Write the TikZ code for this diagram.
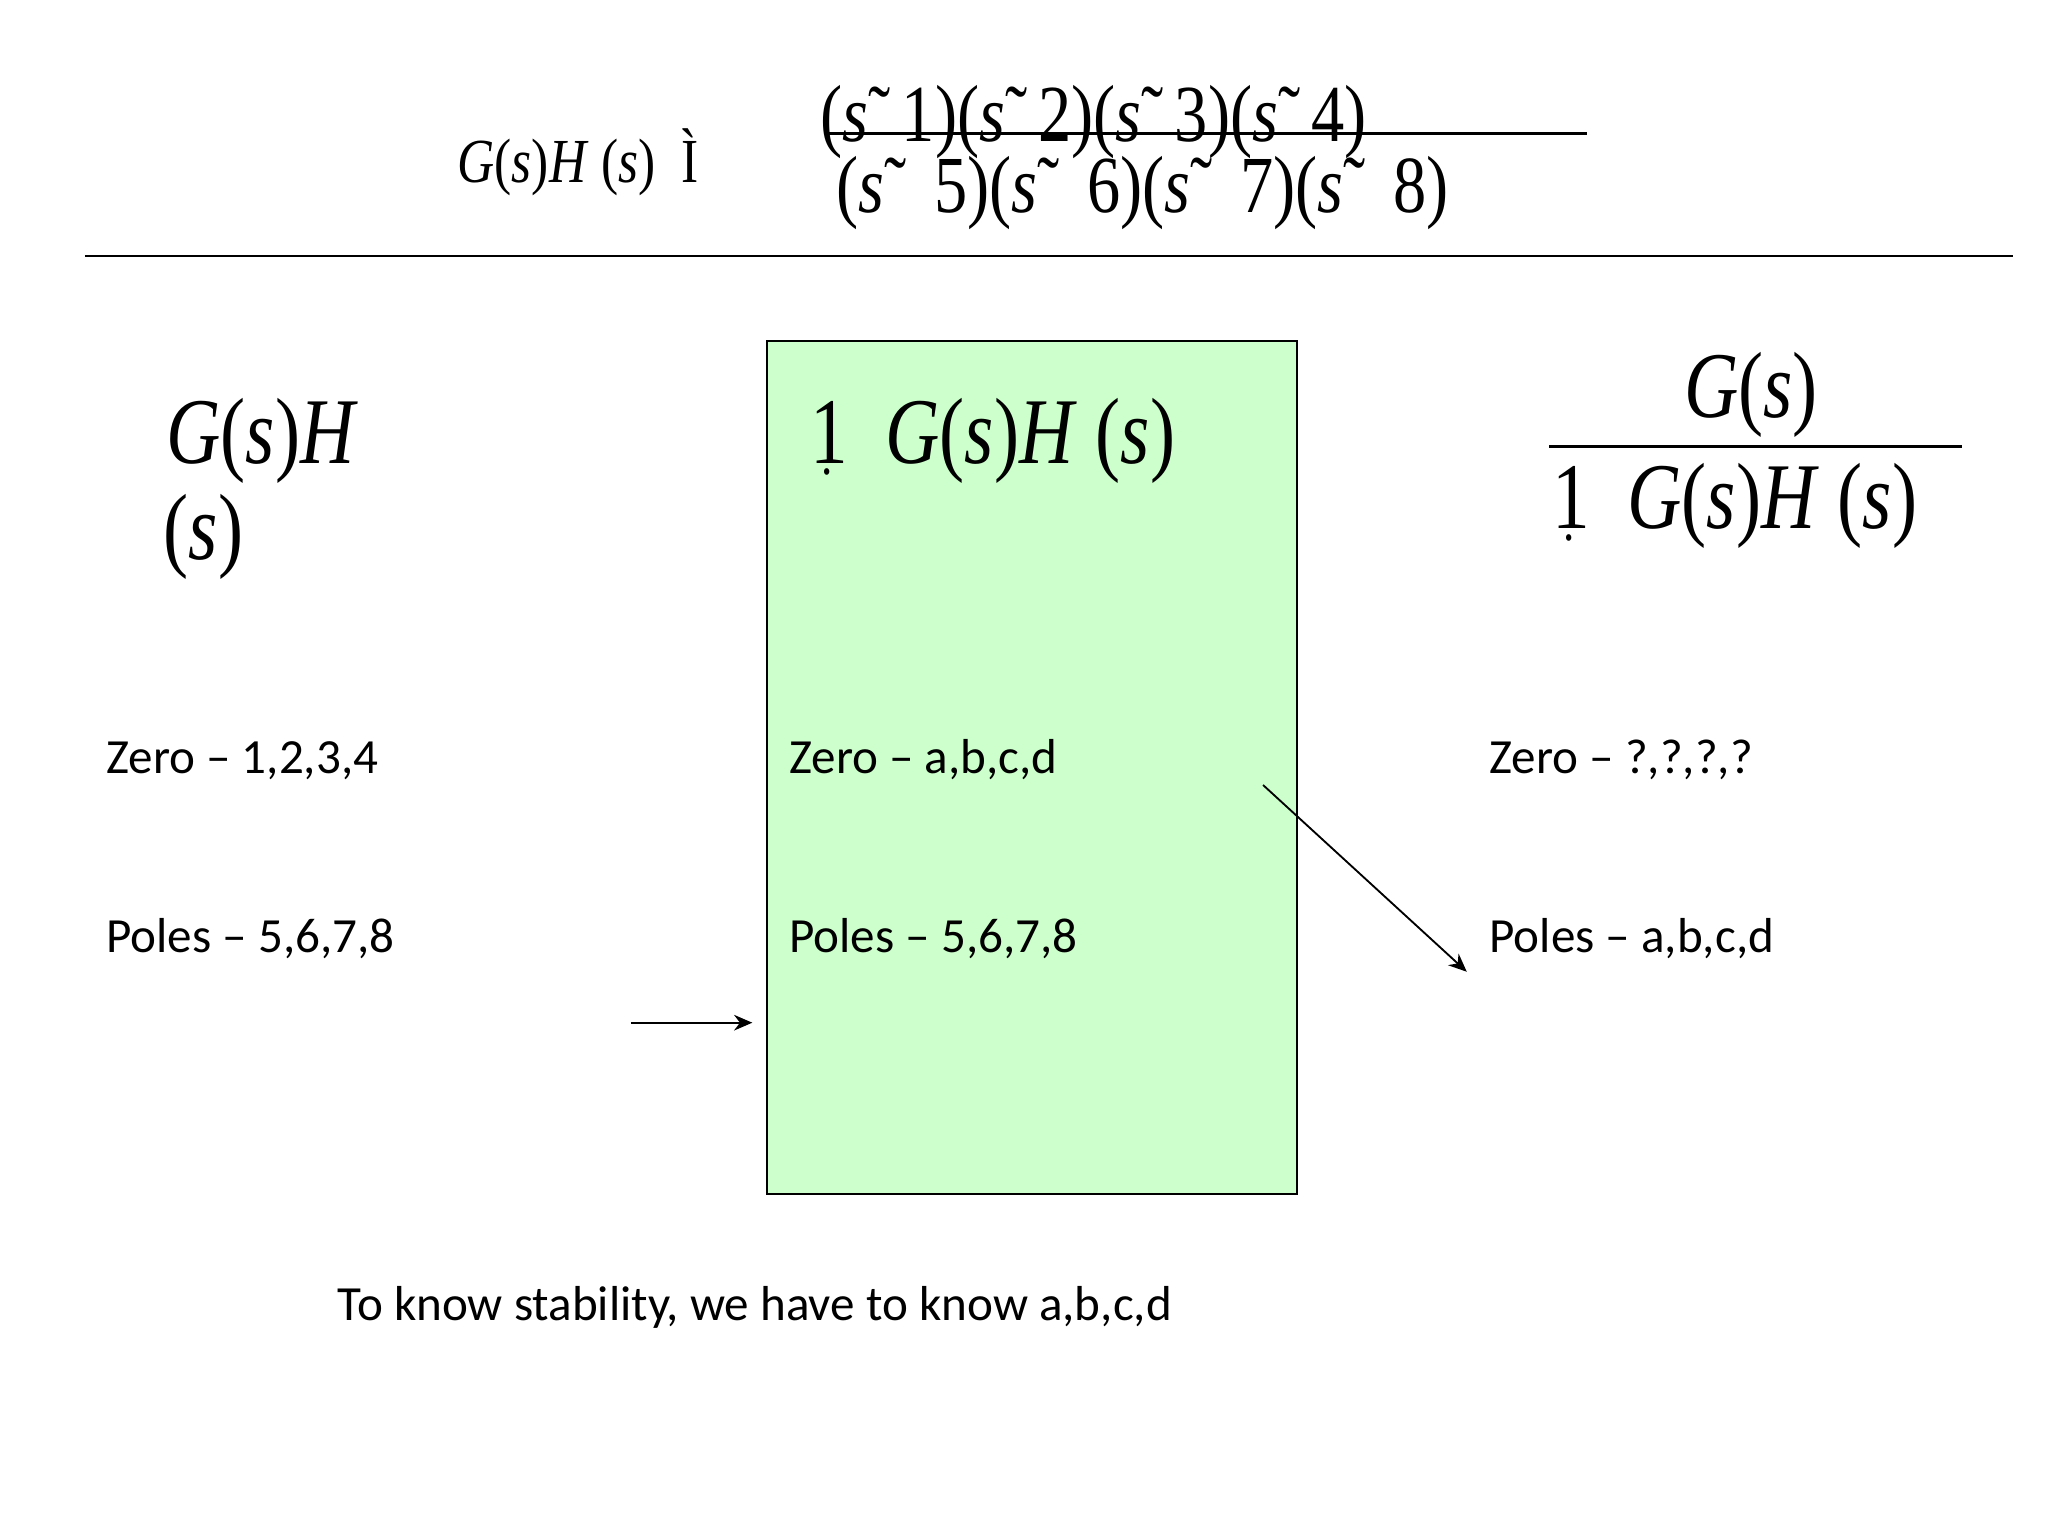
\documentclass[tikz,border=0pt]{standalone}
\usepackage{fontspec}
\usetikzlibrary{arrows.meta}
\setmainfont{Carlito}
\newfontfamily\tms{Liberation Serif}
\definecolor{boxgreen}{HTML}{CCFFCC}
\newcommand{\onedot}{1\llap{\raisebox{-0.12em}{\scalebox{0.6}{.}}\hspace{0.2em}}}
\begin{document}
\begin{tikzpicture}[x=0.5pt,y=-0.5pt,
  lbl/.style={anchor=base west,inner sep=0pt,font=\fontsize{18.8}{22}\selectfont},
  mth/.style={anchor=base west,inner sep=0pt},
  arr/.style={-{Stealth[length=7pt,width=6pt]},line width=0.7pt}]
\useasboundingbox (0,0) rectangle (1568,1176);
\fill[white] (0,0) rectangle (1568,1176);
% top formula
\node[mth] (top) at (350,140) {\scalebox{0.82}[1]{\tms\fontsize{24}{28}\selectfont\textit{G}(\textit{s})\textit{H} (\textit{s})\ \ Ì}};
\node[mth] (num) at (628,108) {\scalebox{0.82}[1]{\tms\fontsize{31}{34}\selectfont(\~{\textit{s}}\ \ 1)(\~{\textit{s}}\ \ 2)(\~{\textit{s}}\ \ 3)(\~{\textit{s}}\ \ 4)}};
\node[mth] (den) at (640,163) {\scalebox{0.82}[1]{\tms\fontsize{31}{34}\selectfont(\~{\textit{s}}\ \ \ 5)(\~{\textit{s}}\ \ \ 6)(\~{\textit{s}}\ \ \ 7)(\~{\textit{s}}\ \ \ 8)}};
\coordinate (f1) at (632,102); \coordinate (f2) at (1215,102);
\draw[line width=1.2pt] (f1) -- (f2);
\coordinate (h1) at (65,196); \coordinate (h2) at (1541,196);
\draw[line width=1pt] (h1) -- (h2);
% left
\node[mth] (l1) at (127,355) {\scalebox{0.8}[1]{\tms\fontsize{36}{40}\selectfont\textit{G}(\textit{s})\textit{H}}};
\node[mth] (l2) at (125,428) {\scalebox{0.8}[1]{\tms\fontsize{36}{40}\selectfont(\textit{s})}};
% box
\draw[fill=boxgreen,line width=0.9pt] (587,261) rectangle (993,914);
\node[mth] (m1) at (620,355) {\scalebox{0.8}[1]{\tms\fontsize{36}{40}\selectfont\onedot\ \ \textit{G}(\textit{s})\textit{H} (\textit{s})}};
% right
\node[mth] (r1) at (1289,320) {\scalebox{0.8}[1]{\tms\fontsize{36}{40}\selectfont\textit{G}(\textit{s})}};
\coordinate (g1) at (1186,342); \coordinate (g2) at (1502,342);
\draw[line width=1.2pt] (g1) -- (g2);
\node[mth] (r2) at (1188,405) {\scalebox{0.8}[1]{\tms\fontsize{36}{40}\selectfont\onedot\ \ \textit{G}(\textit{s})\textit{H} (\textit{s})}};
% labels
\node[lbl] (z1) at (81,592) {Zero – 1,2,3,4};
\node[lbl] (p1) at (81,729) {Poles – 5,6,7,8};
\node[lbl] (z2) at (604,592) {Zero – a,b,c,d};
\node[lbl] (p2) at (604,729) {Poles – 5,6,7,8};
\node[lbl] (z3) at (1140,592) {Zero – ?,?,?,?};
\node[lbl] (p3) at (1140,729) {Poles – a,b,c,d};
\node[lbl] (bt) at (258,1011) {To know stability, we have to know a,b,c,d};
% arrows
\coordinate (a1) at (483,783); \coordinate (a2) at (576,783);
\draw[arr] (a1) -- (a2);
\coordinate (b1) at (967,601); \coordinate (b2) at (1123,744);
\draw[arr] (b1) -- (b2);
\end{tikzpicture}
\end{document}
